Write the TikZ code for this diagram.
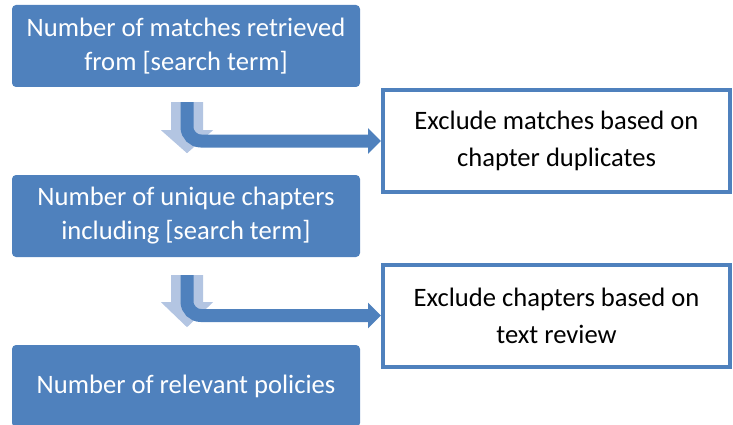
\documentclass[tikz,border=0pt]{standalone}
\usepackage{fontspec}
\setmainfont{Carlito}
\usepackage{tikz}
\usetikzlibrary{arrows.meta}
\usetikzlibrary{calc}
\definecolor{stepblue}{HTML}{4F81BD}
\definecolor{paleblue}{HTML}{B3C5E2}
\begin{document}
\begin{tikzpicture}[x=1pt,y=-1pt]
		\tikzstyle{stepbox}=[rectangle,fill=stepblue,rounded corners=4pt,
			minimum width=348pt,minimum height=82pt,align=center,text=white,
			font=\fontsize{26.6}{34}\selectfont,node distance=170pt];
		\tikzstyle{dropbox}=[rectangle,draw=stepblue,line width=4pt,
			minimum width=347pt,minimum height=102pt,align=center,text=black,
			font=\fontsize{26.6}{37}\selectfont];
		\tikzstyle{flowarrow}=[draw=stepblue,line width=13pt,rounded corners=14pt,
			-{Triangle[width=25pt,length=13pt]}];
		\useasboundingbox (0,0) rectangle (733,425);

		\node[stepbox](box0) at (186,46){Number of matches retrieved\\from [search term]};
		\node[stepbox,below of=box0](box1){Number of unique chapters\\including [search term]};
		\node[stepbox,below of=box1](box2){Number of relevant policies};

		\node[dropbox](drop0) at (556.5,141){Exclude matches based on\\chapter duplicates};
		\node[dropbox](drop1) at (556.5,315.5){Exclude chapters based on\\text review};

		\coordinate(split0) at ($(box0.south)+(1,15)$);
		\fill[paleblue](split0)++(-16,0)--++(32,0)--++(0,28)--++(10,0)--++(-26,23)--++(-26,-23)--++(10,0)--cycle;
		\draw[flowarrow](split0)|-(drop0.west);

		\coordinate(split1) at ($(box1.south)+(1,18)$);
		\fill[paleblue](split1)++(-16,0)--++(32,0)--++(0,27)--++(10,0)--++(-26,25)--++(-26,-25)--++(10,0)--cycle;
		\draw[flowarrow](split1)|-(drop1.west);
	\end{tikzpicture}
\end{document}
